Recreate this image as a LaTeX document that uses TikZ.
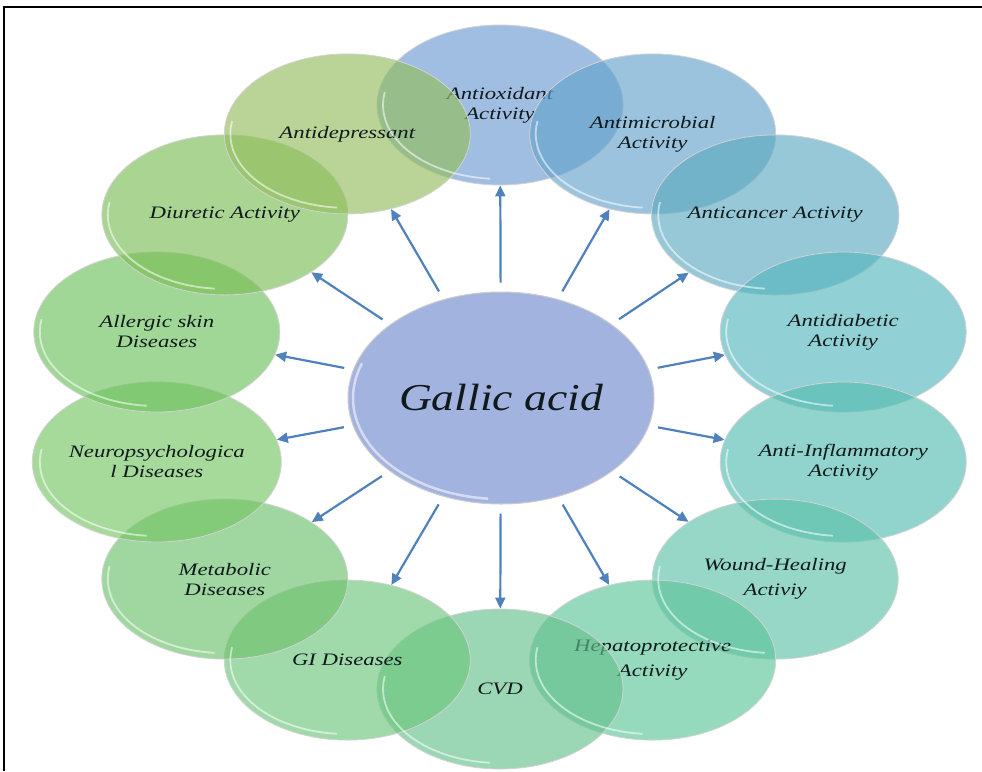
\documentclass[tikz,border=0pt]{standalone}
\usepackage{fontspec}
\newfontfamily\lblfont{Liberation Serif}[FakeStretch=1.3]
\newfontfamily\bigfont{Liberation Serif}[FakeStretch=1.2]
\usetikzlibrary{shapes.geometric,arrows.meta}
\definecolor{k1}{RGB}{109,155,209}
\definecolor{k2}{RGB}{101,163,204}
\definecolor{k3}{RGB}{93,170,193}
\definecolor{k4}{RGB}{86,183,189}
\definecolor{k5}{RGB}{86,189,178}
\definecolor{k6}{RGB}{93,193,170}
\definecolor{k7}{RGB}{93,198,155}
\definecolor{k8}{RGB}{101,193,140}
\definecolor{k9}{RGB}{109,198,124}
\definecolor{k10}{RGB}{109,193,109}
\definecolor{k11}{RGB}{117,198,101}
\definecolor{k12}{RGB}{109,193,93}
\definecolor{k13}{RGB}{124,189,86}
\definecolor{k14}{RGB}{147,189,93}
\definecolor{cen}{RGB}{163,179,224}
\definecolor{txt}{RGB}{16,26,28}
\definecolor{arrc}{RGB}{79,129,189}
\begin{document}
\begin{tikzpicture}[x=1pt,y=-1pt,
  bub/.style={ellipse, minimum width=246pt, minimum height=160pt, inner sep=0pt,
    fill=#1, fill opacity=0.65, text opacity=1, draw=gray!35, line width=0.8pt,
    align=center, text=txt, font={\lblfont\fontsize{17.5}{20}\selectfont\itshape}},
  gloss/.style={draw=white, line width=1.8pt, opacity=0.55},
  arr/.style={draw=arrc, line width=2.2pt, shorten <=9pt, -{Triangle[length=11pt,width=10pt]}},
  frame/.style={draw=black, line width=1.5pt}]
\useasboundingbox (0,0) rectangle (982,771);
\draw[frame] (4,771) -- (4,7) -- (982,7);

\node[bub=k1]  (o1)  at (500,105)   {Antioxidant\\Activity};
\node[bub=k2]  (o2)  at (652.7,133.9) {Antimicrobial\\Activity};
\node[bub=k3]  (o3)  at (775.2,214.9) {Anticancer Activity};
\node[bub=k4]  (o4)  at (843.2,332)   {Antidiabetic\\Activity};
\node[bub=k5]  (o5)  at (843.2,462)   {Anti-Inflammatory\\Activity};
\node[bub=k6]  (o6)  at (775.2,579.1) {Wound-Healing\\[5pt]Activiy};
\node[bub=k7]  (o7)  at (652.7,660.1) {Hepatoprotective\\[5pt]Activity};
\node[bub=k8]  (o8)  at (500,689)     {CVD};
\node[bub=k9]  (o9)  at (347.3,660.1) {GI Diseases};
\node[bub=k10] (o10) at (224.8,579.1) {Metabolic\\Diseases};
\node[bub=k11] (o11) at (156.8,462)   {Neuropsychologica\\l Diseases};
\node[bub=k12] (o12) at (156.8,332)   {Allergic skin\\Diseases};
\node[bub=k13] (o13) at (224.8,214.9) {Diuretic Activity};
\node[bub=k14] (o14) at (347.3,133.9) {Antidepressant};

\foreach \n in {o1,o2,o3,o4,o5,o6,o7,o8,o9,o10,o11,o12,o13,o14}
  \draw[gloss] ([shift={(95:117 and 74)}]\n.center) arc[start angle=95, end angle=190, x radius=117, y radius=74];

\node[ellipse, minimum width=306pt, minimum height=212pt, inner sep=0pt,
  fill=cen, draw=gray!40, line width=1pt, text=txt,
  font={\bigfont\fontsize{38}{40}\selectfont\itshape}] (g) at (501,398) {Gallic acid};
\draw[gloss, line width=2.5pt] ([shift={(95:148 and 101)}]g.center) arc[start angle=95, end angle=200, x radius=148, y radius=101];

\foreach \i in {1,...,14}
  \draw[arr] (g) -- (o\i);
\end{tikzpicture}
\end{document}
